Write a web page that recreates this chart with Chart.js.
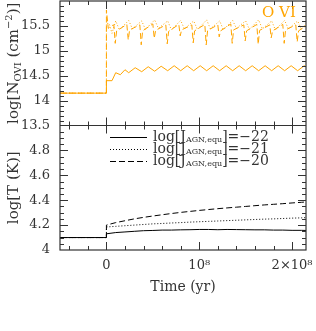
<!DOCTYPE html>
<html>
<head>
<meta charset="utf-8">
<script src="https://cdn.jsdelivr.net/npm/chart.js@4/dist/chart.umd.min.js"></script>
<style>
  html, body { margin: 0; padding: 0; background: #fff; }
</style>
</head>
<body>
<canvas id="OviChart" width="316" height="331"></canvas>
<script>
// time is in units of 1e8 yr
const oSolidT = [-0.5, 0, 0, 0.06, 0.1, 0.15, 0.2, 0.24,
  0.31, 0.38, 0.45, 0.52, 0.59, 0.66, 0.73, 0.80, 0.87, 0.94, 1.01, 1.08, 1.15, 1.22,
  1.29, 1.36, 1.43, 1.50, 1.57, 1.64, 1.71, 1.78, 1.85, 1.92, 1.99, 2.06, 2.13, 2.15];
const oSolid = [14.15, 14.15, 14.4, 14.4, 14.56, 14.52, 14.62, 14.56,
  14.66, 14.58, 14.68, 14.59, 14.69, 14.6, 14.7, 14.6, 14.7, 14.6, 14.7, 14.6, 14.7, 14.6,
  14.7, 14.6, 14.7, 14.6, 14.7, 14.6, 14.7, 14.6, 14.7, 14.6, 14.7, 14.6, 14.7, 14.68];

const oDotT = [-0.5, 0, 0, 0.03, 0.06,
  0.10, 0.14, 0.24, 0.28, 0.38, 0.42, 0.52, 0.56, 0.66, 0.70, 0.80, 0.84, 0.94, 0.98,
  1.08, 1.12, 1.22, 1.26, 1.36, 1.40, 1.50, 1.54, 1.64, 1.68, 1.78, 1.82, 1.92, 1.96,
  2.06, 2.10, 2.15];
const oDot = [14.15, 14.15, 15.55, 15.55, 15.35,
  15.6, 15.42, 15.61, 15.44, 15.6, 15.43, 15.62, 15.45, 15.6, 15.42, 15.61, 15.44, 15.6, 15.43,
  15.62, 15.44, 15.6, 15.42, 15.61, 15.45, 15.6, 15.43, 15.62, 15.44, 15.6, 15.42, 15.61, 15.44,
  15.6, 15.43, 15.55];

const oDashT = [-0.5, 0, 0, 0.02, 0.05,
  0.08, 0.095, 0.11, 0.22, 0.235, 0.25, 0.36, 0.375, 0.39, 0.50, 0.515, 0.53,
  0.64, 0.655, 0.67, 0.78, 0.795, 0.81, 0.92, 0.935, 0.95, 1.06, 1.075, 1.09,
  1.20, 1.215, 1.23, 1.34, 1.355, 1.37, 1.48, 1.495, 1.51, 1.62, 1.635, 1.65,
  1.76, 1.775, 1.79, 1.90, 1.915, 1.93, 2.04, 2.055, 2.07, 2.15];
const oDash = [14.15, 14.15, 15.82, 15.45, 15.5,
  15.52, 15.15, 15.4, 15.53, 15.22, 15.42, 15.52, 15.12, 15.4, 15.54, 15.25, 15.41,
  15.52, 15.14, 15.39, 15.53, 15.3, 15.42, 15.52, 15.16, 15.4, 15.53, 15.12, 15.41,
  15.52, 15.28, 15.4, 15.54, 15.15, 15.42, 15.52, 15.2, 15.4, 15.53, 15.13, 15.41,
  15.52, 15.26, 15.4, 15.53, 15.15, 15.42, 15.52, 15.18, 15.4, 15.5];

const tempT = [-0.5, 0, 0, 0.1, 0.2, 0.3, 0.4, 0.5, 0.6, 0.7, 0.8, 0.9, 1.0,
  1.1, 1.2, 1.3, 1.4, 1.5, 1.6, 1.7, 1.8, 1.9, 2.0, 2.1, 2.15];
const tSolid = [4.10, 4.10, 4.13, 4.14, 4.145, 4.15, 4.155, 4.157, 4.16, 4.16, 4.162, 4.163, 4.165,
  4.165, 4.163, 4.165, 4.164, 4.163, 4.162, 4.162, 4.16, 4.16, 4.158, 4.158, 4.157];
const tDot = [4.10, 4.10, 4.185, 4.19, 4.195, 4.2, 4.205, 4.21, 4.213, 4.217, 4.22, 4.224, 4.227,
  4.23, 4.233, 4.236, 4.239, 4.242, 4.245, 4.248, 4.25, 4.253, 4.256, 4.258, 4.26];
const tDash = [4.10, 4.10, 4.20, 4.22, 4.235, 4.25, 4.262, 4.273, 4.283, 4.293, 4.302, 4.31, 4.318,
  4.325, 4.332, 4.338, 4.344, 4.35, 4.356, 4.362, 4.367, 4.372, 4.378, 4.383, 4.386];

const legendValues = ['\u221222', '\u221221', '\u221220'];
const xTickLabels = {0: '0', 1: '10\u2078', 2: '2\u00d710\u2078'};

const ORANGE = '#ffa500';
const INK = '#333';
const SERIF = '"DejaVu Serif", serif';
const DASHES = [[], [1, 2], [6, 3]];

function pts(xs, ys) { return xs.map((t, i) => ({x: t, y: ys[i]})); }

function line(label, xs, ys, color, dash, axis) {
  return {
    label: label, data: pts(xs, ys), yAxisID: axis,
    borderColor: color, backgroundColor: color, borderWidth: 1, borderDash: dash,
    pointRadius: 0, showLine: true, tension: 0, fill: false
  };
}

// draws a run of text pieces [text, size, dy], anchored left or centered
function rich(ctx, parts, x, y, center) {
  let w = 0;
  parts.forEach(p => { ctx.font = p[1] + 'px ' + SERIF; w += ctx.measureText(p[0]).width; });
  let cx = center ? x - w / 2 : x;
  parts.forEach(p => {
    ctx.font = p[1] + 'px ' + SERIF;
    ctx.fillText(p[0], cx, y + p[2]);
    cx += ctx.measureText(p[0]).width;
  });
}

const decor = {
  id: 'decor',
  afterDraw(chart) {
    const {ctx, chartArea: a, scales} = chart;
    const xs = scales.x, yt = scales.yTop, yb = scales.yBot;
    ctx.save();
    ctx.textAlign = 'left';
    ctx.strokeStyle = INK;
    ctx.lineWidth = 1.2;
    ctx.strokeRect(a.left, a.top, a.right - a.left, a.bottom - a.top);
    ctx.beginPath();
    ctx.moveTo(a.left, yt.bottom); ctx.lineTo(a.right, yt.bottom);
    ctx.stroke();

    ctx.lineWidth = 1;
    ctx.beginPath();
    [[yt, 13.5, 25, 5], [yb, 4, 20, 4]].forEach(([ys, lo, n, every]) => {
      const step = ys === yt ? 0.1 : 0.05;
      for (let k = -2; k <= 10; k++) {
        const px = Math.round(xs.getPixelForValue(k / 5)) + 0.5;
        const len = k % 5 === 0 ? 8 : 4;
        ctx.moveTo(px, ys.bottom); ctx.lineTo(px, ys.bottom - len);
        ctx.moveTo(px, ys.top); ctx.lineTo(px, ys.top + len);
      }
      for (let k = 1; k < n; k++) {
        const py = Math.round(ys.getPixelForValue(lo + k * step)) + 0.5;
        const len = k % every === 0 ? 8 : 4;
        ctx.moveTo(a.left, py); ctx.lineTo(a.left + len, py);
        ctx.moveTo(a.right, py); ctx.lineTo(a.right - len, py);
      }
    });
    ctx.stroke();

    ctx.fillStyle = INK;
    ctx.textBaseline = 'middle';
    // y titles
    ctx.save();
    ctx.translate(14, (yt.top + yt.bottom) / 2);
    ctx.rotate(-Math.PI / 2);
    rich(ctx, [['log[N', 15, 0], ['OVI', 10, 4], [' (cm', 15, 0], ['\u22122', 10, -5], [')]', 15, 0]], 0, 0, true);
    ctx.restore();
    ctx.save();
    ctx.translate(14, (yb.top + yb.bottom) / 2);
    ctx.rotate(-Math.PI / 2);
    rich(ctx, [['log[T (K)]', 15, 0]], 0, 0, true);
    ctx.restore();
    // x title
    rich(ctx, [['Time (yr)', 14, 0]], (a.left + a.right) / 2, 287, true);

    // ion label
    ctx.fillStyle = ORANGE;
    rich(ctx, [['O VI', 15, 0]], 262, 13, false);

    // legend for the temperature panel
    ctx.fillStyle = INK;
    ctx.strokeStyle = '#000';
    legendValues.forEach((v, i) => {
      const y = 137 + i * 12;
      ctx.beginPath();
      ctx.setLineDash(DASHES[i]);
      ctx.moveTo(110, y + 0.5); ctx.lineTo(147, y + 0.5);
      ctx.stroke();
      ctx.setLineDash([]);
      rich(ctx, [['log[J', 14, 0], ['AGN,equ', 8, 3], [']=' + v, 14, 0]], 153, y, false);
    });
    ctx.restore();
  }
};

function noPad(s) {
  s.paddingTop = 0; s.paddingBottom = 0; s.paddingLeft = 0; s.paddingRight = 0;
}

const yTicks = {padding: 10, color: INK, font: {family: SERIF, size: 13}, autoSkip: false};

const ctx = document.getElementById('OviChart').getContext('2d');
let chart = new Chart(ctx, {
  type: 'scatter',
  data: {
    datasets: [
      line('O VI, -22', oSolidT, oSolid, ORANGE, DASHES[0], 'yTop'),
      line('O VI, -21', oDotT, oDot, ORANGE, DASHES[1], 'yTop'),
      line('O VI, -20', oDashT, oDash, ORANGE, DASHES[2], 'yTop'),
      line('T, -22', tempT, tSolid, '#000', DASHES[0], 'yBot'),
      line('T, -21', tempT, tDot, '#000', DASHES[1], 'yBot'),
      line('T, -20', tempT, tDash, '#000', DASHES[2], 'yBot')
    ]
  },
  plugins: [decor],
  options: {
    responsive: false,
    animation: false,
    layout: {autoPadding: false, padding: {left: 0, right: 10, top: 1, bottom: 0}},
    plugins: {legend: {display: false}, tooltip: {enabled: false}},
    scales: {
      x: {
        type: 'linear', min: -0.5, max: 2.15,
        grid: {display: false, drawTicks: false}, border: {display: false},
        afterBuildTicks: s => { s.ticks = [{value: 0}, {value: 1}, {value: 2}]; },
        afterFit: s => { s.height = 81; noPad(s); },
        ticks: {
          padding: 8, color: INK, font: {family: SERIF, size: 13}, maxRotation: 0, autoSkip: false,
          callback: v => xTickLabels[v]
        }
      },
      yBot: {
        type: 'linear', position: 'left', stack: 'panels', stackWeight: 1,
        min: 4, max: 5,
        grid: {display: false, drawTicks: false}, border: {display: false},
        afterFit: s => { s.width = 60; noPad(s); },
        ticks: Object.assign({stepSize: 0.2,
          callback: v => (v >= 4.99 ? '' : String(Math.round(v * 10) / 10))}, yTicks)
      },
      yTop: {
        type: 'linear', position: 'left', stack: 'panels', stackWeight: 1,
        min: 13.5, max: 16,
        grid: {display: false, drawTicks: false}, border: {display: false},
        afterFit: s => { s.width = 60; noPad(s); },
        ticks: Object.assign({stepSize: 0.5,
          callback: v => (v >= 16 ? '' : String(v))}, yTicks)
      }
    }
  }
});
</script>
</body>
</html>
